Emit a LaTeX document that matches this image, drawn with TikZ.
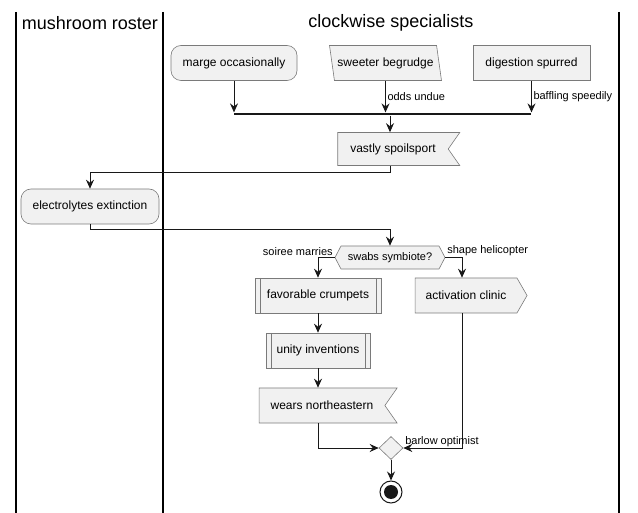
\documentclass[tikz,border=0pt]{standalone}
\usepackage{fontspec}
\setmainfont{Liberation Sans}
\usetikzlibrary{arrows.meta, shapes.geometric, shapes.symbols, positioning}
\definecolor{boxfill}{HTML}{F1F1F1}
\definecolor{boxline}{HTML}{7A7A7A}
\definecolor{flowline}{HTML}{181818}

\begin{document}
\begin{tikzpicture}[
            x = 1pt, y = -1pt, % pixel grid, y grows downwards
            > = {Stealth[length=9pt, width=8pt, inset=3pt]}, % arrow head style
            line width = 1pt, % flow line style
            draw = flowline,
            font = \fontsize{12}{14}\selectfont
        ]

        \tikzstyle{box}=[
            draw = boxline,
            fill = boxfill,
            line width = 0.6pt,
            minimum height = 35pt,
            inner sep = 2pt
        ]
        \tikzstyle{act}=[box, rectangle]
        \tikzstyle{roundact}=[box, rectangle, rounded corners = 10pt]
        \tikzstyle{inputact}=[box, trapezium, trapezium left angle = 108,
            trapezium right angle = 72, trapezium stretches body]
        \tikzstyle{sendact}=[box, signal, signal from = east, signal to = nowhere,
            signal pointer angle = 110]
        \tikzstyle{receiveact}=[box, signal, signal to = east, signal from = nowhere,
            signal pointer angle = 120]
        \tikzstyle{subact}=[box, rectangle, path picture = {
            \draw[boxline, line width = 0.6pt]
                ([xshift=5pt]path picture bounding box.north west) --
                ([xshift=5pt]path picture bounding box.south west)
                ([xshift=-5pt]path picture bounding box.north east) --
                ([xshift=-5pt]path picture bounding box.south east);}]
        \tikzstyle{choice}=[box, signal, signal to = east and west,
            signal pointer angle = 125, minimum height = 23pt,
            font = \fontsize{11}{13}\selectfont]
        \tikzstyle{merge}=[box, diamond, minimum width = 24pt,
            minimum height = 23pt, inner sep = 0pt]
        \tikzstyle{bar}=[fill = flowline, inner sep = 0pt, minimum height = 2.2pt]
        \tikzstyle{stopnode}=[circle, draw = flowline, line width = 1pt, fill = white,
            minimum size = 22pt, inner sep = 0pt,
            path picture = {\fill[flowline] (path picture bounding box.center) circle (7pt);}]
        \tikzstyle{lbl}=[inner sep = 1.5pt, font = \fontsize{11}{13}\selectfont]
        \tikzstyle{lanetitle}=[font = \fontsize{18}{20}\selectfont]
        \tikzstyle{lane}=[line width = 1.3pt, draw = black]

        \useasboundingbox (0,0) rectangle (638,513);

        % swimlanes
        \draw[lane] (16,12) -- (16,513);
        \draw[lane] (163,12) -- (163,513);
        \draw[lane] (619,12) -- (619,513);
        \node[lanetitle] (roster) at (90,23) {mushroom roster};
        \node[lanetitle] (specialists) at (391,23) {clockwise specialists};

        % activities
        \node[roundact, minimum width = 126pt] (marge) at (234,63) {marge occasionally};
        \node[inputact, minimum width = 112pt] (sweeter) at (385.5,63) {sweeter begrudge};
        \node[act, minimum width = 117pt] (digestion) at (531.5,63) {digestion spurred};
        \node[bar, minimum width = 297pt] (fork) at (382.5,114) {};
        \node[sendact, minimum width = 122pt, minimum height = 33pt] (vastly) at (393,149) {vastly spoilsport};
        \node[roundact, minimum width = 138pt] (electro) at (90,206.5) {electrolytes extinction};
        \node[choice, minimum width = 110pt] (swabs) at (390,257.5) {swabs symbiote?};
        \node[subact, minimum width = 126pt] (favorable) at (318,295.5) {favorable crumpets};
        \node[receiveact, minimum width = 112pt] (activation) at (466,295.5) {activation clinic};
        \node[subact, minimum width = 104pt] (unity) at (318,350.5) {unity inventions};
        \node[sendact, minimum width = 138pt] (wears) at (322,405.5) {wears northeastern};
        \node[merge] (barlow) at (391,448) {};
        \node[stopnode] (stop) at (391,492) {};

        % flow
        \draw[->] (marge.south) -- (marge.south |- fork.north);
        \draw[->] (sweeter.south) -- node[lbl, right] {odds undue} (sweeter.south |- fork.north);
        \draw[->] (digestion.south) -- node[lbl, right] {baffling speedily} (digestion.south |- fork.north);
        \draw[->] (fork.south -| swabs.north) -- (swabs.north |- vastly.north);
        \draw[->] (swabs.north |- vastly.south) -- ++(0,7) -| (electro.north);
        \draw[->] (electro.south) -- ++(0,5) -| (swabs.north);
        \draw[->] (swabs.west) node[lbl, above left] {soiree marries} -| (favorable.north);
        \draw[->] (swabs.east) node[lbl, above right] {shape helicopter} -| ([xshift=-4pt]activation.north);
        \draw[->] (favorable.south) -- (unity.north);
        \draw[->] (unity.south) -- (unity.south |- wears.north);
        \draw[->] (unity.south |- wears.south) |- (barlow.west);
        \draw[->] ([xshift=-4pt]activation.south) |- (barlow.east) node[lbl, anchor=west, yshift=6pt] {barlow optimist};
        \draw[->] (barlow.south) -- (stop.north);

  \end{tikzpicture}
\end{document}
